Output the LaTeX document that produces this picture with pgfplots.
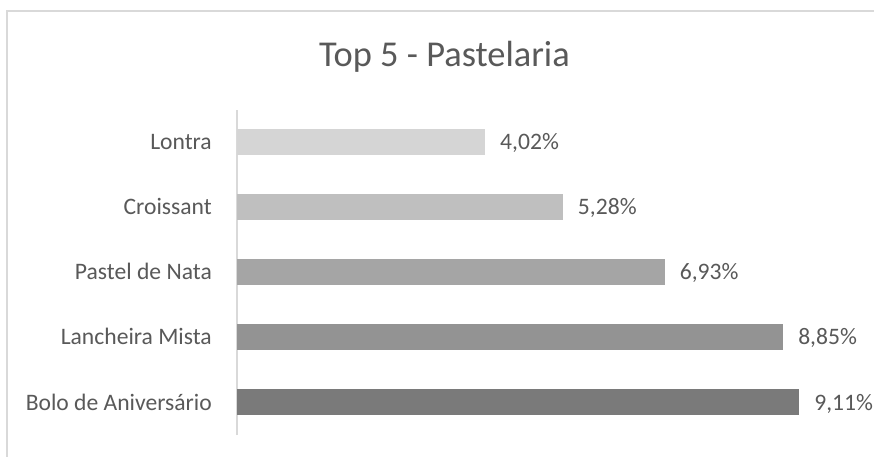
\documentclass[border=0pt]{standalone}
\usepackage{pgfplots}
\pgfplotsset{compat=1.18}
\usepackage{fontspec}
\setmainfont{Carlito}
\definecolor{txt}{HTML}{595959}
\definecolor{frame}{HTML}{D9D9D9}
\definecolor{cA}{HTML}{D5D5D5}
\definecolor{cB}{HTML}{BFBFBF}
\definecolor{cC}{HTML}{A5A5A5}
\definecolor{cD}{HTML}{939393}
\definecolor{cE}{HTML}{7A7A7A}
\begin{document}
\begin{tikzpicture}
\useasboundingbox (0,0) rectangle (874bp,457bp);
\fill[white] (0,0) rectangle (874bp,457bp);
\draw[frame, line width=1.8bp] (7bp,-20bp) -- (7bp,446bp) -- (900bp,446bp);
\node[anchor=base, text=txt, font=\fontsize{36.4bp}{40bp}\selectfont] at (444.5bp,390.3bp) {Top 5 - Pastelaria};
\begin{axis}[
  at={(237bp,22bp)}, anchor=south west,
  scale only axis, width=617bp, height=325.5bp,
  xmin=0, xmax=10, ymin=-0.5, ymax=4.5,
  xbar, bar width=0.4,
  hide x axis,
  axis y line*=left,
  y axis line style={draw=frame, line width=1.3bp, -},
  major tick length=0pt,
  ytick={0,1,2,3,4},
  yticklabels={Bolo de Aniversário, Lancheira Mista, Pastel de Nata, Croissant, Lontra},
  yticklabel style={anchor=base east, inner sep=0pt, xshift=-25bp, yshift=-7.6bp, text=txt, font=\fontsize{23.6bp}{28bp}\selectfont},
  /pgf/number format/assume math mode=true,
  point meta=x,
  nodes near coords={\pgfmathprintnumber[fixed, fixed zerofill, precision=2, use comma]{\pgfplotspointmeta}\%},
  nodes near coords style={anchor=base west, inner sep=0pt, xshift=15bp, yshift=-7.6bp, text=txt, font=\fontsize{23.6bp}{28bp}\selectfont},
  every axis plot/.append style={bar shift=0pt, draw=none},
  clip=false,
]
\addplot[fill=cE] coordinates {(9.11,0)};
\addplot[fill=cD] coordinates {(8.85,1)};
\addplot[fill=cC] coordinates {(6.93,2)};
\addplot[fill=cB] coordinates {(5.28,3)};
\addplot[fill=cA] coordinates {(4.02,4)};
\end{axis}
\end{tikzpicture}
\end{document}
